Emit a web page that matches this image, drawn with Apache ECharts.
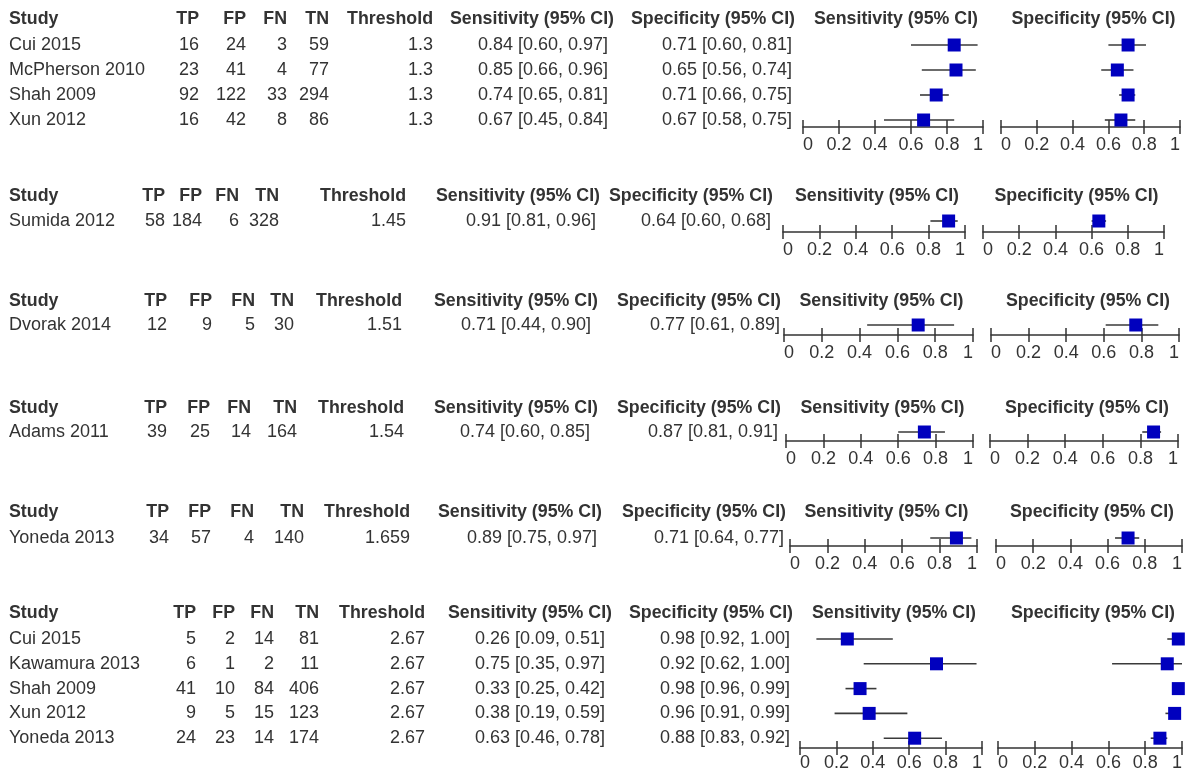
<!DOCTYPE html>
<html><head><meta charset="utf-8">
<script src="https://cdn.jsdelivr.net/npm/echarts@6/dist/echarts.min.js"></script>
<style>html,body{margin:0;padding:0;background:#fff}#c{width:1191px;height:771px}</style>
</head><body><div id="c"></div>
<script>
// ---------------- DATA ----------------
const studies   = ['Cui 2015','McPherson 2010','Shah 2009','Xun 2012','Sumida 2012','Dvorak 2014','Adams 2011','Yoneda 2013','Cui 2015','Kawamura 2013','Shah 2009','Xun 2012','Yoneda 2013'];
const panelOf   = [0,0,0,0,1,2,3,4,5,5,5,5,5];
const tp        = [16,23,92,16,58,12,39,34,5,6,41,9,24];
const fp        = [24,41,122,42,184,9,25,57,2,1,10,5,23];
const fn        = [3,4,33,8,6,5,14,4,14,2,84,15,14];
const tn        = [59,77,294,86,328,30,164,140,81,11,406,123,174];
const thresholds= ['1.3','1.3','1.3','1.3','1.45','1.51','1.54','1.659','2.67','2.67','2.67','2.67','2.67'];
const sens      = [0.84,0.85,0.74,0.67,0.91,0.71,0.74,0.89,0.26,0.75,0.33,0.38,0.63];
const sensLo    = [0.60,0.66,0.65,0.45,0.81,0.44,0.60,0.75,0.09,0.35,0.25,0.19,0.46];
const sensHi    = [0.97,0.96,0.81,0.84,0.96,0.90,0.85,0.97,0.51,0.97,0.42,0.59,0.78];
const spec      = [0.71,0.65,0.71,0.67,0.64,0.77,0.87,0.71,0.98,0.92,0.98,0.96,0.88];
const specLo    = [0.60,0.56,0.66,0.58,0.60,0.61,0.81,0.64,0.92,0.62,0.96,0.91,0.83];
const specHi    = [0.81,0.74,0.75,0.75,0.68,0.89,0.91,0.77,1.00,1.00,0.99,0.99,0.92];
const headers   = ['Study','TP','FP','FN','TN','Threshold','Sensitivity (95% CI)','Specificity (95% CI)'];
const plotHeaders = ['Sensitivity (95% CI)','Specificity (95% CI)'];
const tickLabels = ['0','0.2','0.4','0.6','0.8','1'];

// ---------------- LAYOUT (pixels) ----------------
// cols: right edges of TP,FP,FN,TN,Threshold,Sens,Spec value columns; hdr: right edges of Sens/Spec headers
const layout = [
  {head:19,  row0:45,  step:25,   axisY:127, lm:9, cols:[199,246,287,329,433,608,792], hdr:[614,795], sx:[803,983], px:[1001,1180]},
  {head:196, row0:221, step:25,   axisY:232, lm:9, cols:[165,202,239,279,406,596,771], hdr:[600,773], sx:[783,965], px:[983,1164]},
  {head:301, row0:325, step:25,   axisY:335, lm:9, cols:[167,212,255,294,402,591,780], hdr:[598,781], sx:[784,973], px:[991,1179]},
  {head:408, row0:432, step:25,   axisY:441, lm:9, cols:[167,210,251,297,404,590,778], hdr:[598,781], sx:[786,973], px:[990,1178]},
  {head:512, row0:538, step:25,   axisY:546, lm:9, cols:[169,211,254,304,410,597,784], hdr:[602,786], sx:[790,977], px:[996,1182]},
  {head:613, row0:639, step:24.8, axisY:748, lm:6, cols:[196,235,274,319,425,605,790], hdr:[612,793], sx:[800,982], px:[998,1182]}
];
const STUDY_X = 9;
const FONT = '"Liberation Sans", Arial, sans-serif';
const FS = 18, FSH = 17.8;
const TXT = '#333333';
const BLUE = '#0000BE';
const SQ = 13;

const fmt = (e,l,h) => e.toFixed(2) + ' [' + l.toFixed(2) + ', ' + h.toFixed(2) + ']';

const grids = [], xAxes = [], yAxes = [], series = [];

layout.forEach((L, p) => {
  const top = L.row0 - L.step;
  const height = L.axisY - top;
  const yMax = (L.axisY - L.row0) / L.step;
  const idx = studies.map((s,i)=>i).filter(i => panelOf[i] === p);
  const headRow = (L.head - L.row0) / L.step;

  // ---- table grid (x in pixel units) ----
  const gT = grids.length;
  grids.push({left:0, top:top, width:1191, height:height, containLabel:false, outerBoundsMode:'none'});
  xAxes.push({gridIndex:gT, type:'value', min:0, max:1191, show:false});
  yAxes.push({gridIndex:gT, type:'value', inverse:true, min:-1, max:yMax, show:false});
  const tData = [[headRow, -1]].concat(idx.map((si, r) => [r, si]));
  series.push({
    type:'custom', xAxisIndex:xAxes.length-1, yAxisIndex:yAxes.length-1, silent:true, clip:false,
    data:tData,
    renderItem:(params, api) => {
      const r = api.value(0), si = api.value(1);
      const y = api.coord([0, r])[1];
      const X = v => api.coord([v, r])[0];
      const ch = [];
      const txt = (t, x, align, bold) => ch.push({type:'text', style:{text:String(t), x:x, y:y, align:align, verticalAlign:'middle',
        font:(bold?'bold ' + FSH:FS) + 'px ' + FONT, fill:TXT}});
      if (si < 0) {
        txt(headers[0], X(STUDY_X), 'left', true);
        for (let k = 1; k <= 5; k++) txt(headers[k], X(L.cols[k-1]), 'right', true);
        txt(headers[6], X(L.hdr[0]), 'right', true);
        txt(headers[7], X(L.hdr[1]), 'right', true);
        txt(plotHeaders[0], X((L.sx[0]+L.sx[1])/2 + 3), 'center', true);
        txt(plotHeaders[1], X((L.px[0]+L.px[1])/2 + 3), 'center', true);
      } else {
        txt(studies[si], X(STUDY_X), 'left', false);
        const vals = [tp[si], fp[si], fn[si], tn[si], thresholds[si],
                      fmt(sens[si], sensLo[si], sensHi[si]), fmt(spec[si], specLo[si], specHi[si])];
        vals.forEach((v,k) => txt(v, X(L.cols[k]), 'right', false));
      }
      return {type:'group', children:ch};
    }
  });

  // ---- plot grids (sens, spec) ----
  [[L.sx, sens, sensLo, sensHi], [L.px, spec, specLo, specHi]].forEach(([ax, est, lo, hi]) => {
    const g = grids.length;
    grids.push({left:ax[0], top:top, width:ax[1]-ax[0], height:height, containLabel:false, outerBoundsMode:'none'});
    const base = {gridIndex:g, type:'value', min:0, max:1, interval:0.2, position:'bottom', splitLine:{show:false}};
    xAxes.push(Object.assign({}, base, {
      axisLine:{show:true, onZero:false, lineStyle:{color:TXT, width:1.6}},
      axisTick:{show:true, inside:false, length:7, lineStyle:{color:TXT, width:1.5}},
      axisLabel:{show:true, margin:L.lm, fontSize:FS, fontFamily:FONT, color:TXT,
        alignMinLabel:'left', alignMaxLabel:'right',
        formatter: v => tickLabels[Math.round(v / 0.2)]}
    }));
    const xMain = xAxes.length - 1;
    xAxes.push(Object.assign({}, base, {
      axisLine:{show:false, onZero:false},
      axisTick:{show:true, inside:true, length:7, lineStyle:{color:TXT, width:1.5}},
      axisLabel:{show:false}
    }));
    yAxes.push({gridIndex:g, type:'value', inverse:true, min:-1, max:yMax, show:false});
    const yI = yAxes.length - 1;
    series.push({
      type:'custom', xAxisIndex:xMain, yAxisIndex:yI, silent:true, clip:false,
      data: idx.map((si, r) => [est[si], lo[si], hi[si], r]),
      renderItem:(params, api) => {
        const e = api.value(0), l = api.value(1), h = api.value(2), r = api.value(3);
        const pe = api.coord([e, r]), pl = api.coord([l, r]), ph = api.coord([h, r]);
        return {type:'group', children:[
          {type:'line', shape:{x1:pl[0], y1:pl[1], x2:ph[0], y2:ph[1]}, style:{stroke:'#3a3a3a', lineWidth:1.6}},
          {type:'rect', shape:{x:pe[0]-SQ/2, y:pe[1]-SQ/2, width:SQ, height:SQ}, style:{fill:BLUE}}
        ]};
      }
    });
  });
});

const chart = echarts.init(document.getElementById('c'), null, {renderer:'canvas'});
chart.setOption({animation:false, backgroundColor:'#ffffff', grid:grids, xAxis:xAxes, yAxis:yAxes, series:series});
</script></body></html>
